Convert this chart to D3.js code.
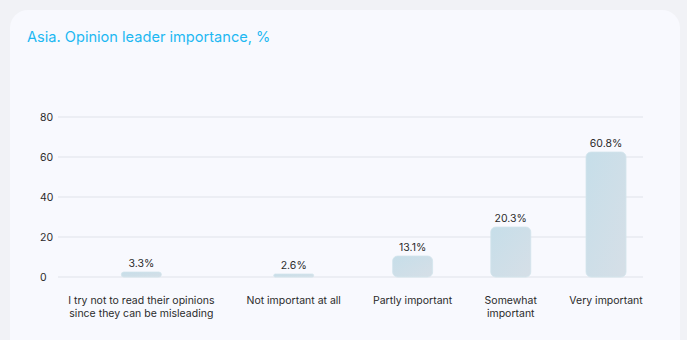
<!DOCTYPE html>
<html>
<head>
<meta charset="utf-8">
<script src="https://cdn.jsdelivr.net/npm/d3@7"></script>
<style>
  html, body { margin: 0; padding: 0; background: #f1f2f6; }
  svg { display: block; font-family: Inter, "Noto Sans", sans-serif; }
</style>
</head>
<body>
<svg id="chart" width="687" height="340"></svg>
<script>
// data
const categories = ['try-not', 'not-important', 'partly', 'somewhat', 'very'];
const tickLines = [
  ['I try not to read their opinions', 'since they can be misleading'],
  ['Not important at all'],
  ['Partly important'],
  ['Somewhat', 'important'],
  ['Very important']
];
const shares = [3.3, 2.6, 13.1, 20.3, 60.8];        // printed labels
const barValues = [2.5, 1.5, 10.5, 25, 62.5];       // bar heights as drawn
const yTicks = [0, 20, 40, 60, 80];

const svg = d3.select('#chart');

// card
svg.append('rect')
  .attr('x', 10).attr('y', 10)
  .attr('width', 670).attr('height', 360)
  .attr('rx', 18)
  .attr('fill', '#f8f9fe');

svg.append('text')
  .attr('x', 27).attr('y', 42)
  .attr('fill', '#1db8f2')
  .attr('font-size', 14.6)
  .text('Asia. Opinion leader importance, %');

const grid = { left: 58, right: 643 };
const y = d3.scaleLinear().domain([0, 80]).range([277, 117]);

// gradient for bars
const defs = svg.append('defs');
const grad = defs.append('linearGradient').attr('id', 'barGrad')
  .attr('x1', '0%').attr('y1', '0%').attr('x2', '100%').attr('y2', '100%');
grad.append('stop').attr('offset', '0%').attr('stop-color', '#c6dee9');
grad.append('stop').attr('offset', '100%').attr('stop-color', '#d6dfe7');

// y grid + labels
const yAxis = svg.append('g');
yAxis.selectAll('line').data(yTicks).join('line')
  .attr('x1', grid.left).attr('x2', grid.right)
  .attr('y1', d => y(d)).attr('y2', d => y(d))
  .attr('stroke', '#e8eaf0').attr('stroke-width', 1.5);
yAxis.selectAll('text').data(yTicks).join('text')
  .attr('x', 40).attr('y', d => y(d) + 4)
  .attr('font-size', 10.5).attr('fill', '#2b2b2b')
  .text(d => d);

// x labels: measure, then spread like flex space-between
const xLab = svg.append('g');
const labelGroups = xLab.selectAll('text').data(categories).join('text')
  .attr('font-size', 10.5).attr('fill', '#2b2b2b')
  .attr('text-anchor', 'middle');
labelGroups.each(function (d, i) {
  d3.select(this).selectAll('tspan').data(tickLines[i]).join('tspan')
    .attr('x', 0)
    .attr('dy', (t, j) => j === 0 ? 0 : 13)
    .text(t => t);
});
const widths = [];
labelGroups.each(function () { widths.push(this.getBBox().width); });
const xStart = 68, xEnd = grid.right;
const gap = (xEnd - xStart - d3.sum(widths)) / (widths.length - 1);
let cursor = xStart;
const centers = widths.map(w => { const c = cursor + w / 2; cursor += w + gap; return c; });
const x = d3.scaleOrdinal().domain(categories).range(centers);

labelGroups
  .attr('y', 304)
  .each(function (d) {
    d3.select(this).selectAll('tspan').attr('x', x(d));
  });

// bars
const barW = 40;
svg.append('g').selectAll('rect').data(categories).join('rect')
  .attr('x', d => x(d) - barW / 2)
  .attr('y', (d, i) => y(barValues[i]))
  .attr('width', barW)
  .attr('height', (d, i) => y(0) - y(barValues[i]))
  .attr('rx', (d, i) => Math.min(5, (y(0) - y(barValues[i])) / 2))
  .attr('fill', 'url(#barGrad)')
  .attr('stroke', '#d3e4ec').attr('stroke-width', 0.8);

// value labels
svg.append('g').selectAll('text').data(categories).join('text')
  .attr('x', d => x(d))
  .attr('y', (d, i) => y(barValues[i]) - 5)
  .attr('text-anchor', 'middle')
  .attr('font-size', 10.5).attr('fill', '#2b2b2b')
  .text((d, i) => d3.format('.1f')(shares[i]) + '%');
</script>
</body>
</html>
